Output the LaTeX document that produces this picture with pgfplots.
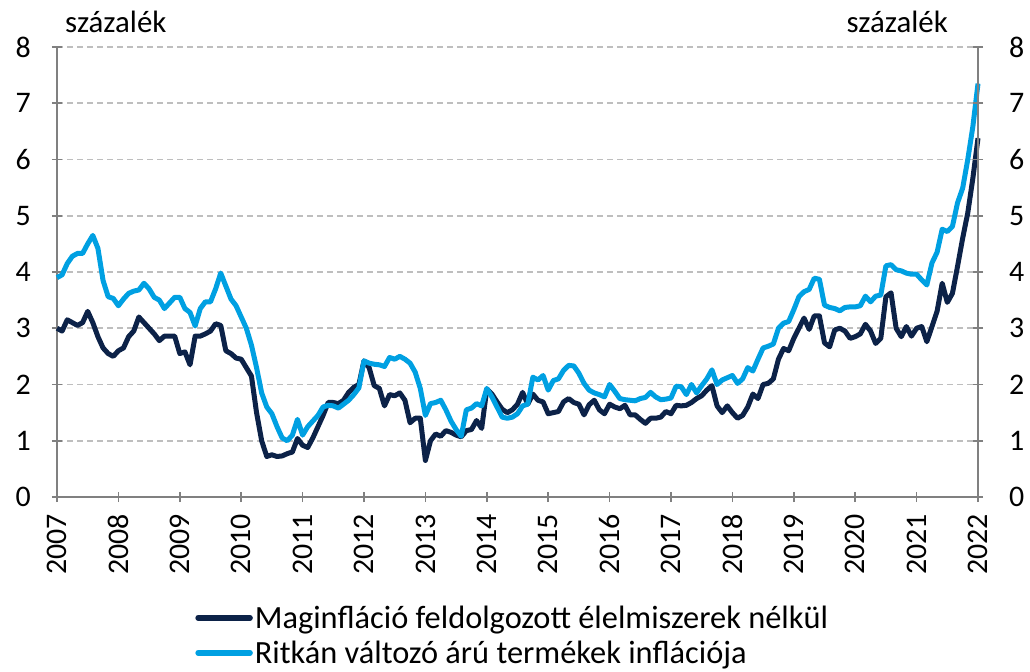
\documentclass[border=0pt]{standalone}
\usepackage{pgfplots}
\pgfplotsset{compat=1.18}
\usepackage{pgfplotstable}
\usepackage{fontspec}
\setmainfont{Carlito}
\definecolor{darkblue}{RGB}{12,34,72}
\definecolor{lightblue}{RGB}{0,160,226}
\definecolor{axgray}{RGB}{128,128,128}
\definecolor{gridgray}{RGB}{190,190,190}
\pgfplotstableread{
m core rare
0 3.0 3.9
1 2.95 3.95
2 3.15 4.15
3 3.1 4.28
4 3.05 4.33
5 3.1 4.33
6 3.3 4.5
7 3.1 4.65
8 2.85 4.42
9 2.65 3.85
10 2.55 3.56
11 2.5 3.53
12 2.6 3.4
13 2.65 3.52
14 2.85 3.62
15 2.95 3.66
16 3.2 3.68
17 3.1 3.8
18 3.0 3.7
19 2.9 3.55
20 2.78 3.5
21 2.86 3.35
22 2.86 3.45
23 2.86 3.55
24 2.55 3.55
25 2.58 3.35
26 2.35 3.28
27 2.86 3.04
28 2.86 3.35
29 2.9 3.47
30 2.95 3.47
31 3.08 3.7
32 3.05 3.98
33 2.6 3.75
34 2.55 3.52
35 2.47 3.4
36 2.45 3.2
37 2.3 3.0
38 2.15 2.7
39 1.5 2.3
40 1.0 1.85
41 0.72 1.6
42 0.75 1.48
43 0.72 1.25
44 0.73 1.05
45 0.77 1.0
46 0.8 1.1
47 1.04 1.38
48 0.92 1.1
49 0.88 1.25
50 1.05 1.35
51 1.25 1.45
52 1.45 1.6
53 1.68 1.63
54 1.68 1.62
55 1.66 1.58
56 1.72 1.65
57 1.86 1.72
58 1.95 1.82
59 2.0 1.94
60 2.42 2.42
61 2.3 2.38
62 1.98 2.36
63 1.93 2.35
64 1.62 2.32
65 1.82 2.48
66 1.8 2.45
67 1.85 2.5
68 1.72 2.45
69 1.32 2.38
70 1.4 2.22
71 1.4 1.93
72 0.65 1.45
73 1.0 1.66
74 1.12 1.68
75 1.08 1.72
76 1.18 1.55
77 1.15 1.35
78 1.1 1.2
79 1.07 1.08
80 1.18 1.55
81 1.2 1.58
82 1.36 1.66
83 1.22 1.62
84 1.92 1.93
85 1.83 1.78
86 1.69 1.6
87 1.56 1.42
88 1.5 1.4
89 1.55 1.42
90 1.65 1.48
91 1.86 1.62
92 1.65 1.65
93 1.83 2.13
94 1.72 2.08
95 1.69 2.16
96 1.48 1.9
97 1.5 2.07
98 1.52 2.1
99 1.69 2.25
100 1.75 2.34
101 1.68 2.33
102 1.65 2.2
103 1.46 2.02
104 1.64 1.9
105 1.72 1.85
106 1.55 1.82
107 1.48 1.78
108 1.65 2.0
109 1.6 1.88
110 1.57 1.75
111 1.63 1.73
112 1.46 1.72
113 1.46 1.71
114 1.38 1.75
115 1.31 1.77
116 1.4 1.86
117 1.4 1.78
118 1.42 1.73
119 1.52 1.74
120 1.48 1.76
121 1.63 1.97
122 1.62 1.96
123 1.63 1.82
124 1.68 2.0
125 1.75 1.85
126 1.8 1.98
127 1.9 2.1
128 1.98 2.26
129 1.62 2.0
130 1.5 2.08
131 1.62 2.12
132 1.5 2.16
133 1.4 2.02
134 1.45 2.1
135 1.6 2.3
136 1.83 2.24
137 1.75 2.45
138 2.0 2.65
139 2.02 2.68
140 2.1 2.72
141 2.45 3.0
142 2.64 3.09
143 2.6 3.12
144 2.82 3.33
145 3.0 3.56
146 3.18 3.65
147 2.98 3.69
148 3.22 3.89
149 3.22 3.87
150 2.74 3.41
151 2.67 3.37
152 2.97 3.35
153 3.0 3.31
154 2.95 3.37
155 2.82 3.38
156 2.85 3.38
157 2.9 3.4
158 3.07 3.57
159 2.95 3.47
160 2.73 3.57
161 2.82 3.59
162 3.56 4.11
163 3.63 4.13
164 3.0 4.04
165 2.85 4.02
166 3.03 3.98
167 2.86 3.96
168 3.0 3.96
169 3.03 3.86
170 2.76 3.77
171 3.03 4.16
172 3.3 4.35
173 3.8 4.76
174 3.46 4.72
175 3.62 4.81
176 4.1 5.23
177 4.6 5.49
178 5.05 6.0
179 5.67 6.59
180 6.38 7.35
}\datatable
\begin{document}
\begin{tikzpicture}
\path[use as bounding box] (0bp,0bp) rectangle (1030bp,672bp);
\pgfplotsset{
  every axis/.append style={
    scale only axis, width=921bp, height=450bp,
    at={(57bp,175bp)}, anchor=south west,
    xmin=0, xmax=180, ymin=0, ymax=8,
    ytick={0,1,...,8},
    /pgf/number format/assume math mode=true,
    tick label style={font=\fontsize{30}{36}\selectfont},
    axis line style={axgray, line width=1.6bp},
    major tick length=10bp,
    tick style={axgray, line width=1.6bp},
    tick align=outside,
    clip=false,
  }
}
\begin{axis}[
  axis x line=bottom, axis y line=left,
  axis line style={-},
  xtick={0,12,...,180},
  xticklabels={2007,2008,2009,2010,2011,2012,2013,2014,2015,2016,2017,2018,2019,2020,2021,2022},
  xticklabel style={yshift=-12bp, rotate=90, anchor=east, inner sep=0bp},
  yticklabel style={inner sep=0bp, xshift=-21bp},
  ymajorgrids, grid style={gridgray, line width=1.6bp, dash pattern=on 6bp off 4bp},
  legend style={at={(0.15,-0.237)}, anchor=north west, draw=none, fill=none,
    font=\fontsize{32.5}{38}\selectfont, row sep=7bp, inner sep=0pt},
  legend cell align=left,
  legend image code/.code={\draw[#1, line width=5.5bp, line cap=round] (0bp,0bp) -- (52bp,0bp);},
]
\addplot[darkblue, line width=5bp, line join=round] table[x=m, y=core] {\datatable};
\addlegendentry{Maginfláció feldolgozott élelmiszerek nélkül}
\addplot[lightblue, line width=5bp, line join=round] table[x=m, y=rare] {\datatable};
\addlegendentry{Ritkán változó árú termékek inflációja}
\node[anchor=base west, inner sep=0pt, font=\fontsize{31}{36}\selectfont] at ([xshift=8bp,yshift=14bp]rel axis cs:0,1) {százalék};
\node[anchor=base east, inner sep=0pt, font=\fontsize{31}{36}\selectfont] at ([xshift=-30bp,yshift=14bp]rel axis cs:1,1) {százalék};
\end{axis}
\begin{axis}[
  axis x line=none, axis y line=right,
  axis line style={-},
  yticklabel style={inner sep=0bp, xshift=26bp},
]
\addplot[draw=none] coordinates {(0,0)};
\end{axis}
\end{tikzpicture}
\end{document}
